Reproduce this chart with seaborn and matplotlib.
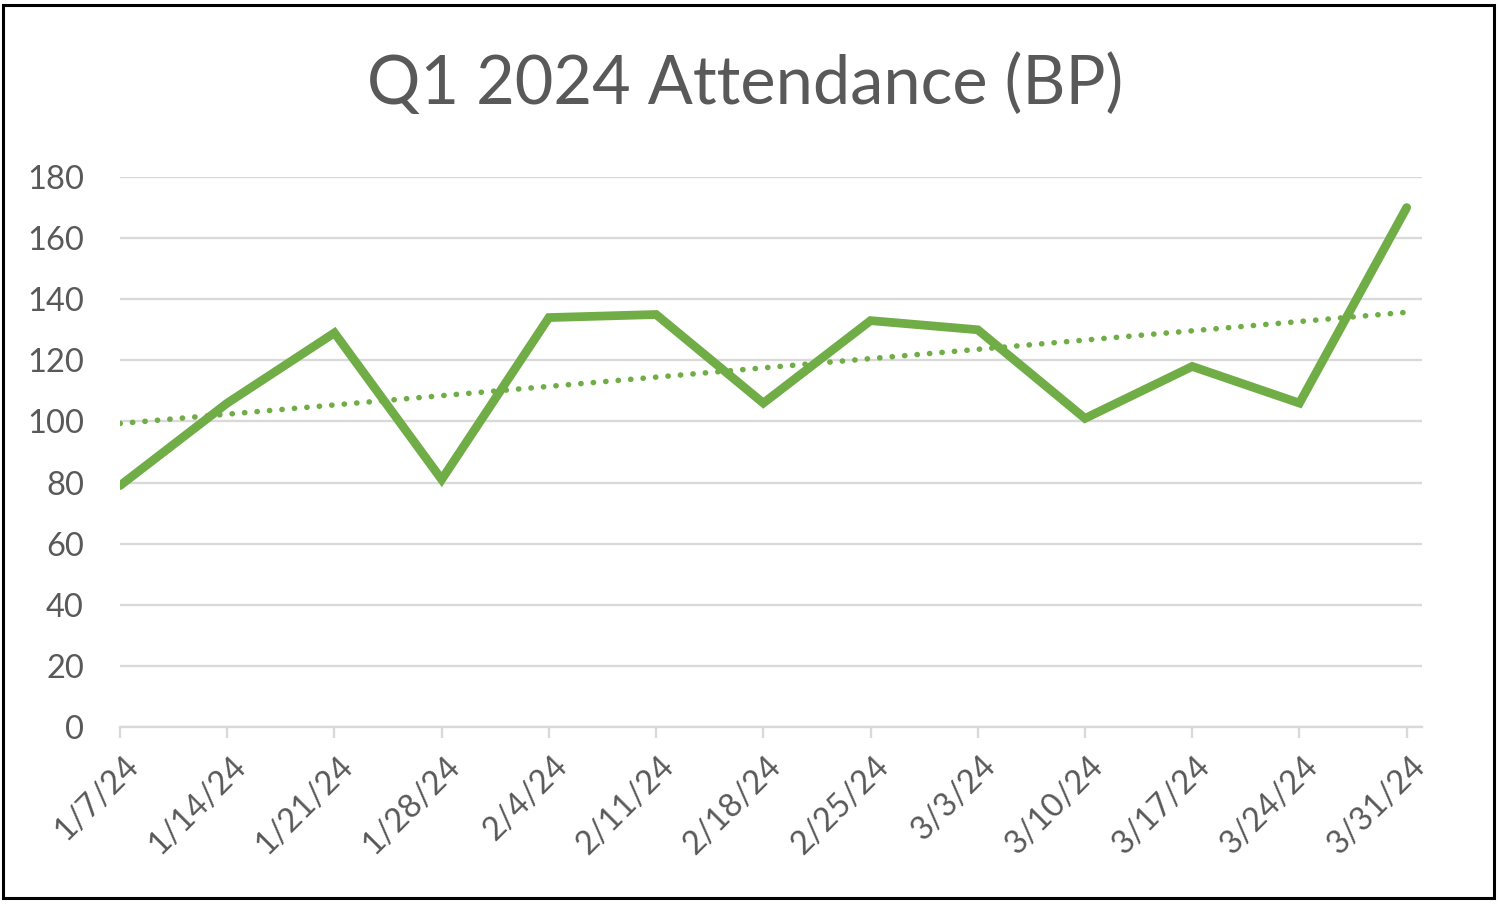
import matplotlib
matplotlib.use("Agg")
import matplotlib.pyplot as plt
from matplotlib.patches import Rectangle
import matplotlib.transforms as mtransforms
import seaborn as sns
import numpy as np
import pandas as pd

# ---- data ----
week_labels = ["1/7/24", "1/14/24", "1/21/24", "1/28/24", "2/4/24", "2/11/24", "2/18/24",
               "2/25/24", "3/3/24", "3/10/24", "3/17/24", "3/24/24", "3/31/24"]
attendance = [79, 106, 129, 81, 134, 135, 106, 133, 130, 101, 118, 106, 170]
y_ticks = [0, 20, 40, 60, 80, 100, 120, 140, 160, 180]
title_text = "Q1 2024 Attendance (BP)"

green = "#70AD47"
grid_c = "#D9D9D9"
text_c = "#595959"

sns.set_theme(style="white")
plt.rcParams['font.family'] = ['Lato', 'DejaVu Sans']

dates = pd.to_datetime(week_labels, format="%m/%d/%y")
df = pd.DataFrame({"date": dates, "attendance": attendance})

fig = plt.figure(figsize=(15, 9.05), dpi=100)
ax = fig.add_axes([0.08, 0.1967, 0.868, 0.6077])

# linear trendline (fitted on week index, as Excel does)
idx = np.arange(len(attendance))
slope, intercept = np.polyfit(idx, attendance, 1)
df["trend"] = intercept + slope * idx

sns.lineplot(data=df, x="date", y="trend", ax=ax, color=green, lw=4,
             linestyle=(0, (0.05, 2.2)), dash_capstyle="round", zorder=3)
sns.lineplot(data=df, x="date", y="attendance", ax=ax, color=green, lw=6.3,
             solid_capstyle="round", solid_joinstyle="miter", zorder=4)

ax.set_ylim(y_ticks[0], y_ticks[-1])
ax.set_xlim(dates[0], dates[-1] + pd.Timedelta(days=1))
ax.set_yticks(y_ticks)
ax.set_xticks(dates)
ax.set_xticklabels(week_labels)
ax.grid(axis="y", color=grid_c, lw=1.7)
ax.set_axisbelow(True)
for s in ["top", "right", "left"]:
    ax.spines[s].set_visible(False)
ax.spines["bottom"].set_color(grid_c)
ax.spines["bottom"].set_linewidth(1.7)
ax.tick_params(axis="y", length=0, pad=26, labelsize=23.5, labelcolor=text_c)
ax.tick_params(axis="x", length=8, width=1.7, color=grid_c, pad=9,
               labelsize=23.5, labelcolor=text_c, bottom=True)
for lab in ax.get_xticklabels():
    lab.set_rotation(45)
    lab.set_ha("right")
    lab.set_va("top")
    lab.set_rotation_mode("anchor")
    lab.set_transform(lab.get_transform() + mtransforms.ScaledTranslation(0.03, 0, fig.dpi_scale_trans))
ax.set_xlabel("")
ax.set_ylabel("")

fig.text(0.497, 0.906, title_text, ha="center", va="center", fontsize=48, color=text_c)

fig.patches.append(Rectangle((0.002, 0.008), 0.994, 0.986, transform=fig.transFigure,
                             fill=False, edgecolor="black", lw=2.2))

fig.savefig("out.png", dpi=100)
